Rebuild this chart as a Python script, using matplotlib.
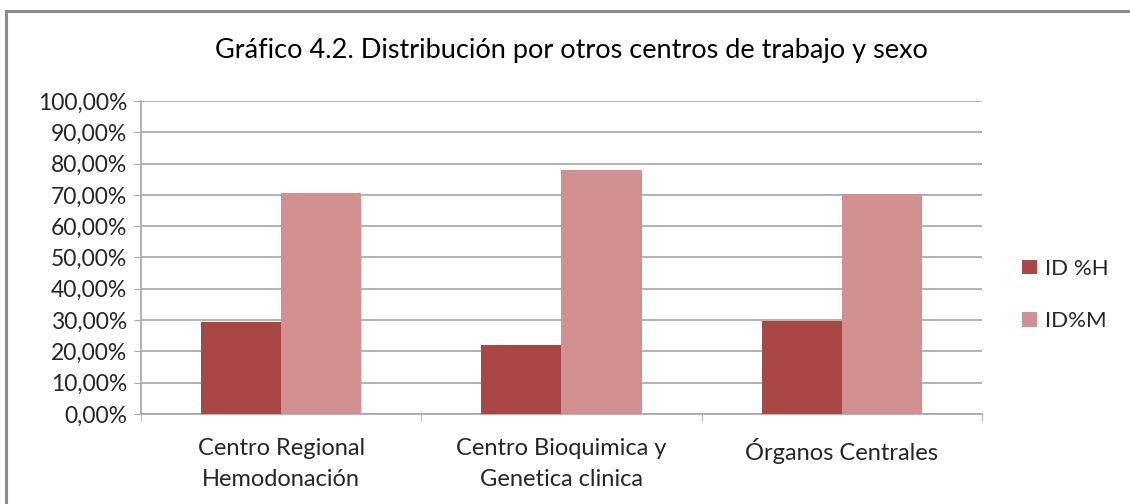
import matplotlib.pyplot as plt
import numpy as np
from matplotlib.patches import Rectangle
from matplotlib.ticker import FuncFormatter, MultipleLocator

plt.rcParams["font.family"] = ["Lato", "DejaVu Sans"]

# data
categories = ["Centro Regional\nHemodonación", "Centro Bioquimica y\nGenetica clinica", "Órganos Centrales"]
series_names = ["ID %H", "ID%M"]
pct_h = [29.4, 22.0, 29.6]
pct_m = [70.6, 78.0, 70.4]

colors = ["#A94744", "#D29190"]
text_color = "#262626"
grid_color = "#A6A6A6"

fig = plt.figure(figsize=(11.3, 5.04), dpi=100)
ax = fig.add_axes([0.1248, 0.1786, 0.7442, 0.621])

x = np.arange(len(categories))
width = 1 / 3.5
ax.bar(x - width / 2, pct_h, width, color=colors[0], label=series_names[0], zorder=3)
ax.bar(x + width / 2, pct_m, width, color=colors[1], label=series_names[1], zorder=3)

ax.set_xlim(-0.5, len(categories) - 0.5)
ax.set_ylim(0, 100)
ax.yaxis.set_major_locator(MultipleLocator(10))
ax.yaxis.set_major_formatter(FuncFormatter(lambda v, _: f"{v:.2f}".replace(".", ",") + "%"))
ax.grid(axis="y", color=grid_color, linewidth=1.2, zorder=0)

ax.set_xticks(x)
ax.set_xticklabels(categories, fontsize=17, color=text_color, linespacing=1.6)
ax.tick_params(axis="x", length=0, pad=17)
ax.set_xticks(np.arange(len(categories) + 1) - 0.5, minor=True)
ax.tick_params(axis="x", which="minor", length=5, color=grid_color)
ax.tick_params(axis="y", labelsize=16.5, labelcolor=text_color, length=5,
               color=grid_color, pad=5)

for side in ["top", "right"]:
    ax.spines[side].set_visible(False)
for side in ["left", "bottom"]:
    ax.spines[side].set_color(grid_color)
    ax.spines[side].set_linewidth(1.2)

fig.text(0.506, 0.9, "Gráfico 4.2. Distribución por otros centros de trabajo y sexo",
         ha="center", va="center", fontsize=19.5, color="black")

ax.legend(loc="center left", bbox_to_anchor=(0.887, 0.415), bbox_transform=fig.transFigure,
          frameon=False, fontsize=16, handlelength=0.65, handleheight=0.65,
          handletextpad=0.35, labelspacing=1.45, labelcolor=text_color)

# chart border (only left and top edges visible in the crop)
fig.patches.append(Rectangle((6 / 1130, -0.1), 1.2, (504 - 11) / 504 + 0.1,
                             transform=fig.transFigure, fill=False,
                             edgecolor="#8C8C8C", linewidth=2.2))

fig.savefig("out.png", dpi=100)
